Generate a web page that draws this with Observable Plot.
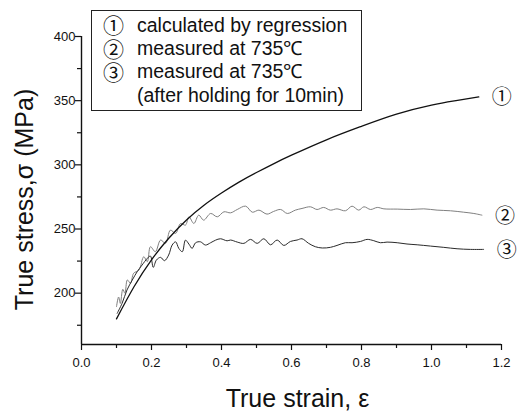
<!DOCTYPE html>
<html><head><meta charset="utf-8">
<script src="https://cdn.jsdelivr.net/npm/d3@7"></script>
<script src="https://cdn.jsdelivr.net/npm/@observablehq/plot@0.6"></script>
<style>
body{margin:0;background:#fff;}
#wrap{width:518px;height:412px;}
</style>
</head><body><div id="wrap"></div>
<script>
// ① calculated by regression
const regStrain = [0.100,0.150,0.200,0.250,0.300,0.350,0.400,0.450,0.500,0.550,0.600,0.700,0.800,0.900,1.000,1.070,1.135];
const regStress = [180.0,205.0,226.0,243.0,257.0,268.5,278.0,286.5,294.0,301.0,307.5,319.5,330.0,339.5,346.5,350.0,353.0];

// ② measured at 735℃
const m735Strain = [0.100,0.106,0.111,0.118,0.124,0.131,0.140,0.149,0.164,0.178,0.188,0.197,0.211,0.226,0.240,0.254,0.269,0.283,0.297,0.307,0.321,0.335,0.349,0.369,0.388,0.407,
  0.426,0.445,0.469,0.488,0.507,0.530,0.549,0.569,0.588,0.611,0.630,0.654,0.673,0.692,0.711,0.730,0.754,0.773,0.792,0.807,0.826,0.845,0.864,0.902,0.940,0.978,1.016,1.054,1.092,1.121,1.144];
const m735Stress = [189.5,197.0,192.0,203.0,200.0,210.3,207.7,215.5,218.0,228.4,224.5,236.2,232.3,241.4,238.8,249.1,246.6,254.3,253.0,259.5,254.3,260.8,256.9,262.1,259.5,263.4,
  262.6,265.2,267.8,263.1,264.7,261.6,263.7,265.2,262.1,264.7,266.0,267.3,265.2,266.8,264.7,265.7,264.2,267.8,264.7,267.3,265.2,266.8,265.7,265.5,265.2,265.7,264.7,264.2,263.1,262.1,260.8];

// ③ measured at 735℃ (after holding for 10min)
const holdStrain = [0.102,0.116,0.130,0.145,0.159,0.173,0.188,0.197,0.205,0.214,0.226,0.237,0.249,0.259,0.269,0.278,0.288,0.297,0.307,0.316,0.326,0.340,0.354,0.369,0.383,0.397,0.416,
  0.426,0.445,0.464,0.483,0.502,0.521,0.540,0.559,0.578,0.597,0.616,0.630,0.649,0.668,0.688,0.711,0.730,0.754,0.773,0.797,0.816,0.835,0.854,0.873,0.902,0.930,0.959,0.997,1.035,1.073,1.111,1.149];
const holdStress = [184.3,192.1,202.5,210.2,216.7,221.9,227.1,228.9,220.1,225.8,227.9,225.3,229.7,237.5,240.0,234.9,232.3,241.3,238.2,234.9,239.3,240.0,237.5,239.3,241.3,242.4,240.8,
  241.4,239.8,238.8,241.9,238.8,242.4,237.7,241.4,237.2,240.3,241.4,242.4,238.8,236.2,235.2,235.7,237.2,239.3,239.3,240.3,241.9,240.9,239.3,239.8,239.3,238.3,237.7,236.7,235.7,234.6,234.1,234.1];

const seriesMarks = ["①","②","③"];
const legendTexts = ["calculated by regression","measured at 735℃","measured at 735℃","(after holding for 10min)"];
const xTicks = [0.0,0.2,0.4,0.6,0.8,1.0,1.2];
const xMinor = [0.1,0.3,0.5,0.7,0.9,1.1];
const yTicks = [200,250,300,350,400];
const yMinor = [175,225,275,325,375];
const xLabel = "True strain, ε";
const yLabel = "True stress,σ (MPa)";

const rows = (k, xs, ys) => xs.map((x, i) => ({series: k, strain: x, stress: ys[i]}));
const d1 = rows(seriesMarks[0], regStrain, regStress);
const d2 = rows(seriesMarks[1], m735Strain, m735Stress);
const d3r = rows(seriesMarks[2], holdStrain, holdStress);
const ends = [d1[d1.length-1], d2[d2.length-1], d3r[d3r.length-1]];

const FONT = "'Liberation Sans', Arial, sans-serif";
const CJK = "'Noto Sans CJK SC', 'DejaVu Sans', sans-serif";

const svg = Plot.plot({
  width: 518, height: 412,
  marginLeft: 81, marginRight: 17, marginTop: 36, marginBottom: 68,
  style: {fontFamily: FONT, fontSize: "13px", color: "#111", background: "#fff"},
  x: {domain: [0, 1.2]},
  y: {domain: [160, 400]},
  marks: [
    Plot.axisX(xTicks, {tickSize: 6, tickPadding: 7, tickFormat: d3.format(".1f"), label: null, strokeWidth: 1.2}),
    Plot.axisX(xMinor, {tickSize: 4, fill: "none", label: null, strokeWidth: 1.2}),
    Plot.axisY(yTicks, {tickSize: 6, tickPadding: 0, tickFormat: d => String(d), label: null, strokeWidth: 1.2}),
    Plot.axisY(yMinor, {tickSize: 4, fill: "none", label: null, strokeWidth: 1.2}),
    Plot.ruleY([160], {strokeWidth: 1.4}),
    Plot.ruleX([0], {strokeWidth: 1.4}),
    Plot.line(d2, {x: "strain", y: "stress", stroke: "#808080", strokeWidth: 1, curve: "catmull-rom"}),
    Plot.line(d3r, {x: "strain", y: "stress", stroke: "#2a2a2a", strokeWidth: 1, curve: "catmull-rom"}),
    Plot.line(d1, {x: "strain", y: "stress", stroke: "#111", strokeWidth: 1.3, curve: "natural"}),
    Plot.text(ends, {x: "strain", y: "stress", text: "series", dx: 23, dy: 1, fontFamily: CJK, fontSize: 20, fill: "#111"}),
    Plot.text([xLabel], {frameAnchor: "bottom", dx: 6, dy: 62, lineAnchor: "bottom", fontSize: 25, fill: "#111"}),
    Plot.text([yLabel], {frameAnchor: "left", textAnchor: "middle", dx: -49, dy: 9, rotate: -90, lineAnchor: "bottom", fontSize: 25, fill: "#111"})
  ]
});

// legend box (inside the plot, top-left)
const g = d3.select(svg).append("g").attr("class", "legend");
g.append("rect").attr("x", 91.5).attr("y", 10.5).attr("width", 270).attr("height", 100)
  .attr("fill", "#fff").attr("stroke", "#222").attr("stroke-width", 1);
const baselines = [31.7, 55, 78.3, 101.7];
legendTexts.forEach((t, i) => {
  if (i < seriesMarks.length) {
    g.append("text").attr("x", 113.5).attr("y", baselines[i] + 1.5).attr("text-anchor", "middle")
      .attr("font-family", CJK).attr("font-size", 21).attr("fill", "#111").text(seriesMarks[i]);
  }
  g.append("text").attr("x", 137).attr("y", baselines[i]).attr("text-anchor", "start")
    .attr("font-family", FONT).attr("font-size", 19.5).attr("fill", "#111").text(t);
});

document.getElementById("wrap").appendChild(svg);
</script>
</body></html>
